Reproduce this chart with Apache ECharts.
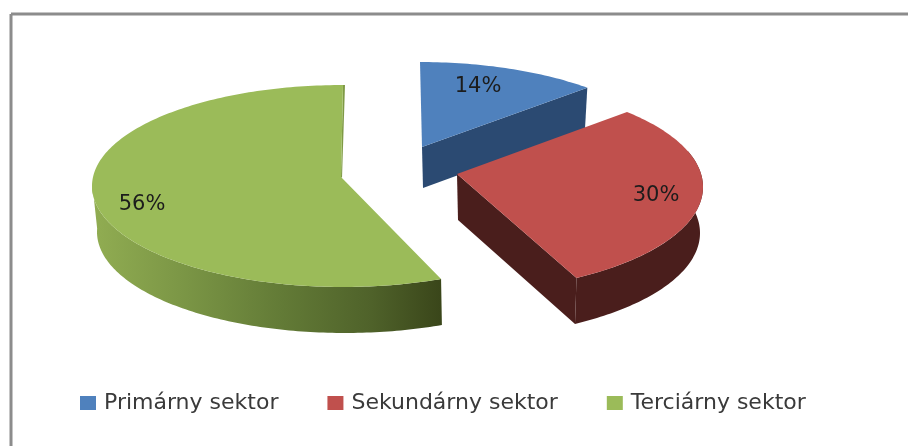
<!DOCTYPE html>
<html>
<head>
<meta charset="utf-8">
<style>html,body{margin:0;padding:0;background:#fff}#c{width:908px;height:446px}</style>
<script src="https://cdn.jsdelivr.net/npm/echarts@6/dist/echarts.min.js"></script>
</head>
<body>
<div id="c"></div>
<script>
const categories = ['Primárny sektor', 'Sekundárny sektor', 'Terciárny sektor'];
const values = [14, 30, 56];
const topColors = ['#4f81bd', '#c0504d', '#9bbb59'];

// Drawing layout of each exploded slice (perspective fitted per slice)
const layout = [
  {cx:420, cy:165, rx:253, ry:103, apex:[422,147], shift:[0,-9], depth:41, bdx:1, bshrink:5,
   wall:null, cut:'#2b4a72', label:[478,87]},
  {cx:450, cy:187, rx:253, ry:105, apex:[457,174], shift:[-6,-8.4], depth:46, bdx:0, bshrink:3,
   wall:[70,150], cut:'#4a1e1c', wallColor:'#4a1e1c', label:[656,196]},
  {cx:343, cy:186, rx:251, ry:101, apex:[341,177], shift:[-1.4,0], depth:46, bdx:2, bshrink:3,
   wall:[157,272], sliver:'#7f9a45', label:[142,205]}
];

const total = values.reduce((a, b) => a + b, 0);
const rad = d => d * Math.PI / 180;
function rim(s, t, lower) {
  const cx = lower ? s.cx + s.bdx : s.cx, cy = lower ? s.cy + s.depth : s.cy;
  const rx = lower ? s.rx - s.bshrink : s.rx;
  return [cx + rx * Math.sin(rad(t)), cy - s.ry * Math.cos(rad(t))];
}
function arc(s, a, b, lower) {
  const out = [], n = Math.max(2, Math.ceil(Math.abs(b - a)));
  for (let i = 0; i <= n; i++) out.push(rim(s, a + (b - a) * i / n, lower));
  return out;
}
function sliceItem(i) {
  return function (params, api) {
    const before = values.slice(0, i).reduce((a, b) => a + b, 0);
    const s = layout[i];
    const t0 = before / total * 360 + s.shift[0];
    const t1 = (before + api.value(0)) / total * 360 + s.shift[1];
    const kids = [];
    if (s.wall) {
      const pts = arc(s, s.wall[0], s.wall[1], false).concat(arc(s, s.wall[1], s.wall[0], true));
      const fill = s.wallColor || new echarts.graphic.LinearGradient(92, 0, 441, 0, [
        {offset:0, color:'#91ad52'}, {offset:0.25, color:'#7c9746'},
        {offset:0.55, color:'#627a36'}, {offset:0.8, color:'#4f622a'}, {offset:1, color:'#3a461a'}
      ], true);
      kids.push({type:'polygon', shape:{points:pts}, style:{fill:fill}});
    }
    if (s.cut) {
      const e = rim(s, t1, false), b = rim(s, t1, true);
      kids.push({type:'polygon', shape:{points:[s.apex, e, b, [s.apex[0] + 1, s.apex[1] + s.depth]]}, style:{fill:s.cut}});
    }
    if (s.sliver) {
      const r = rim(s, t1, false);
      kids.push({type:'polygon', shape:{points:[r, [r[0] + 2, r[1]], [s.apex[0] + 1, s.apex[1] + 1], s.apex]}, style:{fill:s.sliver}});
    }
    kids.push({type:'polygon', shape:{points:[s.apex].concat(arc(s, t0, t1, false))}, style:{fill:topColors[i]}});
    kids.push({type:'text', x:s.label[0], y:s.label[1], style:{
      text:Math.round(api.value(0) / total * 100) + '%', fill:'#1c1c1c', align:'center', verticalAlign:'middle',
      font:'21px "DejaVu Sans"'}});
    return {type:'group', children:kids};
  };
}

const chart = echarts.init(document.getElementById('c'), null, {renderer:'canvas'});
chart.setOption({
  animation:false,
  backgroundColor:'#ffffff',
  legend:{
    data:categories, left:75, top:387, icon:'rect', itemWidth:16, itemHeight:14, itemGap:49,
    textStyle:{color:'#3a3a3a', fontFamily:'DejaVu Sans', fontSize:22, padding:[0,0,0,3]}
  },
  graphic:[
    {type:'line', shape:{x1:11, y1:14, x2:908, y2:14}, style:{stroke:'#8c8c8c', lineWidth:3}},
    {type:'line', shape:{x1:11, y1:14, x2:11, y2:446}, style:{stroke:'#8c8c8c', lineWidth:3}}
  ],
  series:categories.map((name, i) => ({
    type:'custom', name:name, coordinateSystem:'none', silent:true,
    itemStyle:{color:topColors[i]}, data:[[values[i]]], renderItem:sliceItem(i)
  }))
});
</script>
</body>
</html>
